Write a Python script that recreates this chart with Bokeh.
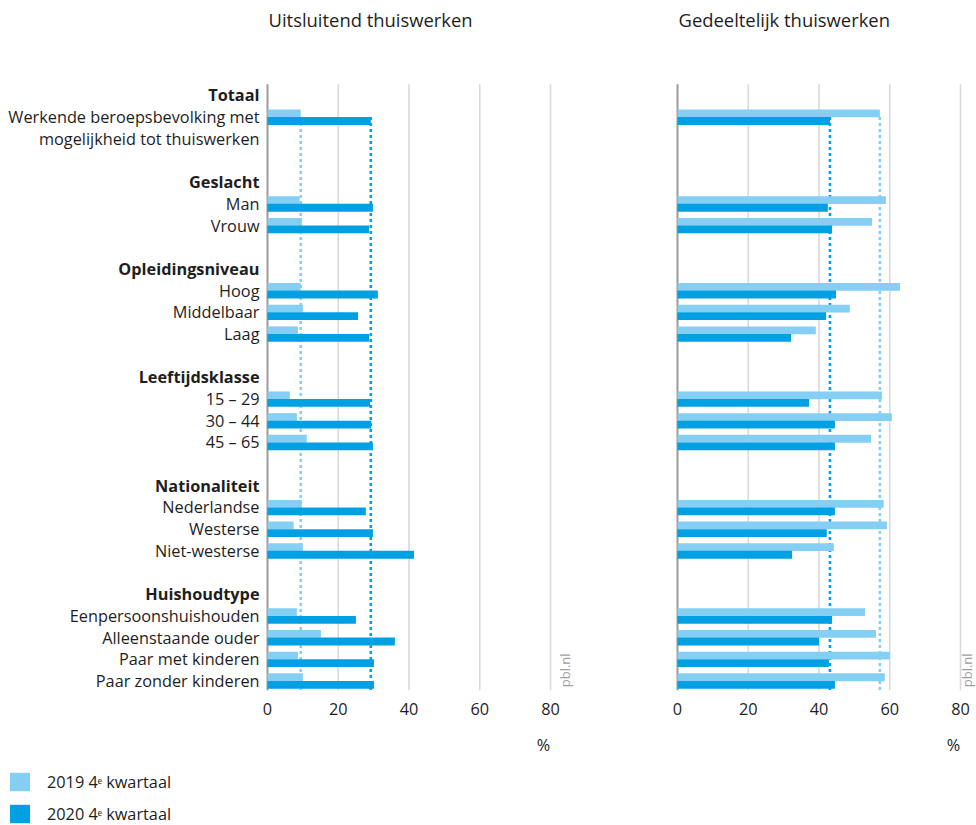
import math
from bokeh.plotting import figure
from bokeh.models import (Range1d, FixedTicker, Legend, LegendItem,
                          ColumnDataSource, LinearAxis)
from bokeh.layouts import column, row
from bokeh.core.properties import value
from bokeh.embed import file_html
from bokeh.resources import INLINE

# ---------------- data ----------------
panel_titles = ["Uitsluitend thuiswerken", "Gedeeltelijk thuiswerken"]
groups = ["Totaal", "Geslacht", "Opleidingsniveau", "Leeftijdsklasse",
          "Nationaliteit", "Huishoudtype"]
group_sizes = [1, 2, 3, 3, 3, 4]
categories = ["Werkende beroepsbevolking met\nmogelijkheid tot thuiswerken",
              "Man", "Vrouw",
              "Hoog", "Middelbaar", "Laag",
              "15 – 29", "30 – 44", "45 – 65",
              "Nederlandse", "Westerse", "Niet-westerse",
              "Eenpersoonshuishouden", "Alleenstaande ouder",
              "Paar met kinderen", "Paar zonder kinderen"]
series_names = ["2019 4ᵉ kwartaal", "2020 4ᵉ kwartaal"]
uit_2019 = [9.4, 9.1, 9.7, 9.4, 10.0, 8.6, 6.3, 8.3, 11.1, 9.7, 7.4, 10.0, 8.3, 15.1, 8.6, 10.0]
uit_2020 = [29.2, 29.8, 28.7, 31.2, 25.6, 28.7, 29.0, 29.3, 29.8, 27.8, 29.8, 41.4, 25.0, 36.0, 30.1, 30.1]
ged_2019 = [57.2, 58.9, 55.0, 62.9, 48.7, 39.1, 57.8, 60.6, 54.7, 58.3, 59.2, 44.2, 53.0, 56.1, 60.0, 58.6]
ged_2020 = [43.1, 42.5, 43.7, 44.8, 42.0, 32.1, 37.2, 44.5, 44.5, 44.5, 42.2, 32.4, 43.7, 40.0, 42.8, 44.5]
x_ticks = [0, 20, 40, 60, 80]
unit_label = "%"
unit_pos = 78
source_note = "pbl.nl"

# ---------------- style ----------------
C19 = "#85CEF4"
C20 = "#00A0E3"
GRID = "#d9d9d9"
AXIS = "#9b9b9b"
TXT = "#1e1e1e"
FONT = "Open Sans"
FS = "16.3px"

# ---------------- row layout ----------------
cat_rows, header_rows, line_rows, line_texts = [], [], [], []
r = 0
ci = 0
for g, n in zip(groups, group_sizes):
    header_rows.append(r)
    r += 1
    for _ in range(n):
        lines = categories[ci].split("\n")
        cat_rows.append(r)
        for k, ln in enumerate(lines):
            line_rows.append(r + k)
            line_texts.append(ln)
        r += len(lines)
        ci += 1
    r += 1

ROW_PX = 21.72
Y_TOP = -0.51                      # top of the bar area (gridlines start)
Y_BOT = cat_rows[-1] + 0.44        # bottom of the bar area
Y_FRAME_TOP = Y_TOP - 84 / ROW_PX  # frame reaches the top of the figure
Y_TITLE = Y_TOP - (84 - 19) / ROW_PX
OFF19, OFF20, BH = -0.17, 0.18, 0.36

PX = 3.5375           # px per x unit
ZERO_L = 267          # px of x=0 within left figure
ZERO_R = 677 - 600    # px of x=0 within right figure
W_L = 600
W_R = 376
H_PLOT = 758
MB_BOT = 67


def make_panel(width, zero_px, v19, v20, title, with_labels, note_x):
    x0 = -zero_px / PX
    x1 = (width - zero_px) / PX
    p = figure(width=width, height=H_PLOT, output_backend="svg",
               toolbar_location=None,
               x_range=Range1d(x0, x1), y_range=Range1d(Y_BOT, Y_FRAME_TOP),
               min_border_left=0, min_border_right=0,
               min_border_top=0, min_border_bottom=MB_BOT)
    p.outline_line_color = None
    p.background_fill_color = None
    p.border_fill_color = None
    p.yaxis.visible = False
    p.grid.visible = False
    p.xaxis.ticker = FixedTicker(ticks=x_ticks)
    p.xaxis.axis_line_color = None
    p.xaxis.major_tick_line_color = None
    p.xaxis.minor_tick_line_color = None
    p.xaxis.major_label_standoff = 6
    p.xaxis.major_label_text_font = FONT
    p.xaxis.major_label_text_font_size = FS
    p.xaxis.major_label_text_color = TXT

    # unit axis ("%") below the tick labels
    ua = LinearAxis(ticker=FixedTicker(ticks=[unit_pos]),
                    major_label_overrides={unit_pos: unit_label},
                    axis_line_color=None, major_tick_line_color=None,
                    minor_tick_line_color=None, major_label_standoff=10,
                    major_label_text_font=FONT, major_label_text_font_size=FS,
                    major_label_text_color=TXT)
    p.add_layout(ua, "below")

    # vertical gridlines over the bar area, and the value axis at 0
    gx = x_ticks[1:]
    p.segment(x0=gx, x1=gx, y0=[Y_TOP] * len(gx), y1=[Y_BOT] * len(gx),
              line_color=GRID, line_width=1.6)
    p.segment(x0=[0], x1=[0], y0=[Y_TOP], y1=[Y_BOT], line_color=AXIS, line_width=2)

    # reference (dotted) lines at the totals
    first = cat_rows[0]
    p.segment(x0=[v19[0]], x1=[v19[0]], y0=[first], y1=[Y_BOT],
              line_color=C19, line_width=2.6, line_dash="3 3")
    p.segment(x0=[v20[0]], x1=[v20[0]], y0=[first], y1=[Y_BOT],
              line_color=C20, line_width=2.6, line_dash="3 3")

    src = ColumnDataSource(dict(
        y19=[rr + OFF19 for rr in cat_rows],
        y20=[rr + OFF20 for rr in cat_rows],
        v19=v19, v20=v20))
    p.hbar(y="y19", right="v19", left=0, height=BH, source=src,
           fill_color=C19, line_color=None)
    p.hbar(y="y20", right="v20", left=0, height=BH, source=src,
           fill_color=C20, line_color=None)

    if with_labels:
        p.text(x=[-2.26] * len(line_rows), y=line_rows, text=line_texts,
               text_align="right", text_baseline="middle",
               text_font=value(FONT), text_font_size=FS, text_color=TXT)
        p.text(x=[-2.26] * len(header_rows), y=header_rows, text=groups,
               text_align="right", text_baseline="middle",
               text_font=value(FONT), text_font_size=FS,
               text_font_style="bold", text_color=TXT)

    # panel title
    p.text(x=[0.3], y=[Y_TITLE], text=[title], text_align="left",
           text_baseline="middle", text_font=value(FONT),
           text_font_size="18.4px", text_color=TXT)

    p.text(x=[note_x], y=[Y_BOT - 0.15], text=[source_note], angle=math.pi / 2,
           text_align="left", text_baseline="middle",
           text_font=value(FONT), text_font_size="13px", text_color="#a0a0a0")
    return p


left = make_panel(W_L, ZERO_L, uit_2019, uit_2020, panel_titles[0], True, 84.2)
right = make_panel(W_R, ZERO_R, ged_2019, ged_2020, panel_titles[1], False, 81.9)

# legend figure
lg = figure(width=400, height=825 - H_PLOT, output_backend="svg", toolbar_location=None,
            x_range=Range1d(0, 1), y_range=Range1d(0, 1),
            min_border_left=7, min_border_right=0, min_border_top=12,
            min_border_bottom=0)
lg.outline_line_color = None
lg.axis.visible = False
lg.grid.visible = False
d19 = lg.quad(left=[5], right=[6], bottom=[5], top=[6], fill_color=C19, line_color=None)
d20 = lg.quad(left=[5], right=[6], bottom=[5], top=[6], fill_color=C20, line_color=None)
legend = Legend(items=[LegendItem(label=series_names[0], renderers=[d19]),
                       LegendItem(label=series_names[1], renderers=[d20])],
                location="top_left", orientation="vertical",
                margin=0, padding=0, spacing=9,
                glyph_width=25, glyph_height=23, label_standoff=15,
                label_text_font=FONT, label_text_font_size=FS,
                label_text_color=TXT,
                border_line_color=None, background_fill_alpha=0)
lg.add_layout(legend)

layout = column(row(left, right, spacing=0), lg, spacing=0)

open("out.html", "w").write(file_html(layout, INLINE))
